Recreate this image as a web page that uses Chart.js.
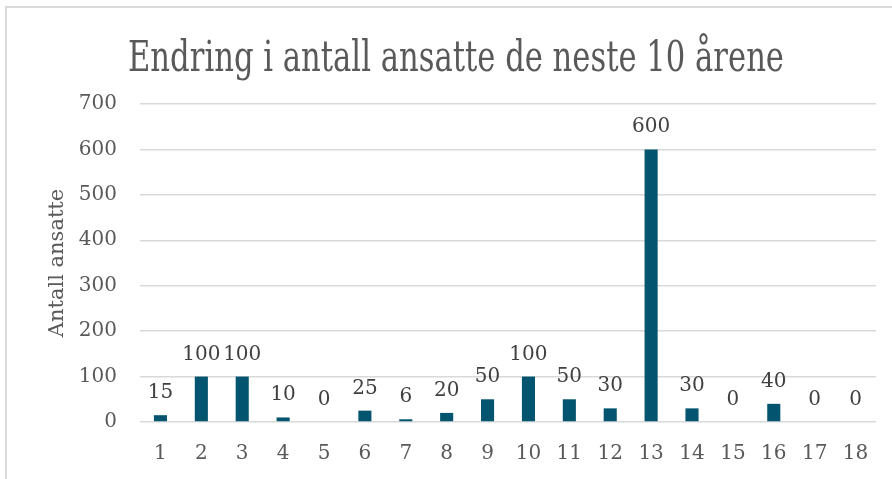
<!DOCTYPE html>
<html>
<head>
<meta charset="utf-8">
<script src="https://cdn.jsdelivr.net/npm/chart.js@4/dist/chart.umd.min.js"></script>
<style>
  html, body { margin: 0; padding: 0; background: #ffffff; }
  #wrap { position: relative; width: 892px; height: 479px; overflow: hidden; }
  #frame { position: absolute; left: 5px; top: 6px; width: 900px; height: 500px;
           border-left: 2px solid #d9d9d9; border-top: 2px solid #d9d9d9; }
  canvas { position: absolute; left: 0; top: 0; }
</style>
</head>
<body>
<div id="wrap">
  <div id="frame"></div>
  <canvas id="c" width="892" height="479"></canvas>
</div>
<script>
const chartTitle = 'Endring i antall ansatte de neste 10 årene';
const yAxisTitle = 'Antall ansatte';
const categories = ['1','2','3','4','5','6','7','8','9','10','11','12','13','14','15','16','17','18'];
const values = [15, 100, 100, 10, 0, 25, 6, 20, 50, 100, 50, 30, 600, 30, 0, 40, 0, 0];
const yTicks = [0, 100, 200, 300, 400, 500, 600, 700];

const serif = "'DejaVu Serif', serif";

const titleDrawer = {
  id: 'titleDrawer',
  afterDraw(chart) {
    const ctx = chart.ctx;
    ctx.save();
    ctx.font = "42px 'DejaVu Serif Condensed', 'DejaVu Serif', serif";
    ctx.fillStyle = '#595959';
    ctx.textBaseline = 'alphabetic';
    ctx.textAlign = 'left';
    const w = ctx.measureText(chartTitle).width;
    const target = 656;
    const sx = target / w;
    const left = 128;
    ctx.translate(left, 71);
    ctx.scale(sx, 1);
    ctx.fillText(chartTitle, 0, 0);
    ctx.restore();
  }
};

const valueLabels = {
  id: 'valueLabels',
  afterDatasetsDraw(chart) {
    const ctx = chart.ctx;
    const meta = chart.getDatasetMeta(0);
    ctx.save();
    ctx.font = "20px " + serif;
    ctx.fillStyle = '#404040';
    ctx.textAlign = 'center';
    ctx.textBaseline = 'alphabetic';
    meta.data.forEach((bar, i) => {
      ctx.fillText(String(values[i]), bar.x, bar.y - 17);
    });
    ctx.restore();
  }
};

new Chart(document.getElementById('c'), {
  type: 'bar',
  data: {
    labels: categories,
    datasets: [{
      data: values,
      backgroundColor: '#03546e',
      borderWidth: 0,
      categoryPercentage: 1,
      barPercentage: 0.32
    }]
  },
  options: {
    responsive: false,
    animation: false,
    layout: { padding: { left: 0, right: 16, top: 104, bottom: 0 } },
    plugins: {
      legend: { display: false },
      tooltip: { enabled: false },
      title: { display: false }
    },
    scales: {
      x: {
        grid: { display: false, drawTicks: false },
        border: { display: false },
        ticks: { color: '#595959', font: { family: serif, size: 20 }, padding: 20, maxRotation: 0, autoSkip: false },
        afterFit(s) { s.height = 57; }
      },
      y: {
        min: 0, max: 700,
        afterBuildTicks(s) { s.ticks = yTicks.map(v => ({ value: v })); },
        grid: { color: '#d9d9d9', lineWidth: 1.5, drawTicks: false },
        border: { display: false },
        ticks: { color: '#595959', font: { family: serif, size: 20 }, padding: 23 },
        title: { display: true, text: yAxisTitle, color: '#595959', font: { family: serif, size: 21 }, padding: { top: 45 } },
        afterFit(s) { s.width = 140; }
      }
    }
  },
  plugins: [valueLabels, titleDrawer]
});
</script>
</body>
</html>
